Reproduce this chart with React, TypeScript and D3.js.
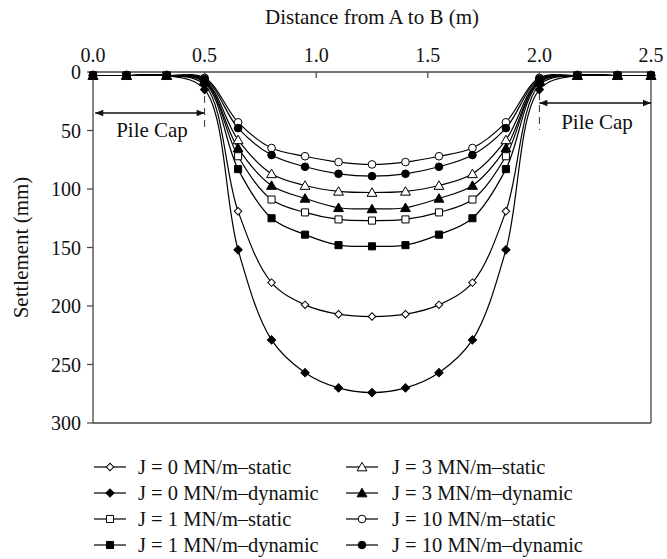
import React from "react";
import * as d3 from "d3";

const distances = [0, 0.15, 0.33, 0.5, 0.65, 0.8, 0.95, 1.1, 1.25, 1.4, 1.55, 1.7, 1.85, 2.0, 2.17, 2.35, 2.5];

const j0Static = [3, 3, 3, 11, 119, 180, 199, 207, 209, 207, 199, 180, 119, 11, 3, 3, 3];
const j0Dynamic = [3, 3, 3, 15, 152, 229, 257, 270, 274, 270, 257, 229, 152, 15, 3, 3, 3];
const j1Static = [3, 3, 3, 8, 72, 109, 120, 126, 127, 126, 120, 109, 72, 8, 3, 3, 3];
const j1Dynamic = [3, 3, 3, 9, 83, 125, 139, 148, 149, 148, 139, 125, 83, 9, 3, 3, 3];
const j3Static = [3, 3, 3, 7, 58, 87, 97, 102, 103, 102, 97, 87, 58, 7, 3, 3, 3];
const j3Dynamic = [3, 3, 3, 8, 65, 97, 108, 116, 117, 116, 108, 97, 65, 8, 3, 3, 3];
const j10Static = [3, 3, 3, 5, 43, 65, 72, 77, 79, 77, 72, 65, 43, 5, 3, 3, 3];
const j10Dynamic = [3, 3, 3, 6, 48, 71, 81, 87, 89, 87, 81, 71, 48, 6, 3, 3, 3];

const xTicks = [0, 0.5, 1.0, 1.5, 2.0, 2.5];
const yTicks = [0, 50, 100, 150, 200, 250, 300];

type Shape = "diamond" | "square" | "triangle" | "circle";
const seriesList: { label: string; values: number[]; shape: Shape; filled: boolean }[] = [
  { label: "J = 0 MN/m\u2013static", values: j0Static, shape: "diamond", filled: false },
  { label: "J = 0 MN/m\u2013dynamic", values: j0Dynamic, shape: "diamond", filled: true },
  { label: "J = 1 MN/m\u2013static", values: j1Static, shape: "square", filled: false },
  { label: "J = 1 MN/m\u2013dynamic", values: j1Dynamic, shape: "square", filled: true },
  { label: "J = 3 MN/m\u2013static", values: j3Static, shape: "triangle", filled: false },
  { label: "J = 3 MN/m\u2013dynamic", values: j3Dynamic, shape: "triangle", filled: true },
  { label: "J = 10 MN/m\u2013static", values: j10Static, shape: "circle", filled: false },
  { label: "J = 10 MN/m\u2013dynamic", values: j10Dynamic, shape: "circle", filled: true },
];

const W = 667;
const H = 559;
const L = 93, R = 651, T = 72, B = 423;
const FONT = "Liberation Serif, Times New Roman, serif";
const txt: React.CSSProperties = { fontFamily: FONT };

function symbolPath(shape: Shape, filled: boolean) {
  const map: Record<Shape, d3.SymbolType> = {
    diamond: d3.symbolSquare,
    square: d3.symbolSquare,
    triangle: d3.symbolTriangle,
    circle: d3.symbolCircle,
  };
  const sizes: Record<Shape, number> = { diamond: filled ? 34 : 28, square: 50, triangle: 42, circle: 46 };
  return d3.symbol(map[shape], sizes[shape])() as string;
}

function markerTransform(shape: Shape, cx: number, cy: number) {
  if (shape === "diamond") return `translate(${cx},${cy}) rotate(45)`;
  if (shape === "triangle") return `translate(${cx},${cy + 1})`;
  return `translate(${cx},${cy})`;
}

export default function App() {
  const x = d3.scaleLinear().domain([0, 2.5]).range([L, R]);
  const y = d3.scaleLinear().domain([0, 300]).range([T, B]);
  const line = d3
    .line<number>()
    .x((_, i) => x(distances[i]))
    .y((v) => y(v))
    .curve(d3.curveCatmullRom.alpha(0.5));

  const legendRows = [467, 493, 519, 545];
  const legendCols = [{ sx: 94, tx: 138 }, { sx: 346, tx: 392 }];

  return (
    <svg width={W} height={H} style={{ position: "absolute", left: 0, top: 0 }}>
      <rect x={0} y={0} width={W} height={H} fill="#fff" />
      <text x={(L + R) / 2} y={24} textAnchor="middle" fontSize={21} fill="#111" style={txt}>
        Distance from A to B (m)
      </text>
      <line x1={L} y1={T} x2={R} y2={T} stroke="#444" strokeWidth={1.3} />
      <line x1={L} y1={T} x2={L} y2={B} stroke="#444" strokeWidth={1.3} />
      <line x1={L} y1={B} x2={R} y2={B} stroke="#444" strokeWidth={1.3} />
      <line x1={R} y1={T} x2={R} y2={B} stroke="#444" strokeWidth={1.3} />
      {xTicks.map((t) => (
        <g key={"xt" + t}>
          <line x1={x(t)} y1={T} x2={x(t)} y2={T + 6} stroke="#444" strokeWidth={1.2} />
          <text x={x(t)} y={62} textAnchor="middle" fontSize={20} fill="#111" style={txt}>
            {t.toFixed(1)}
          </text>
        </g>
      ))}
      {yTicks.map((t) => (
        <g key={"yt" + t}>
          <line x1={L - 6} y1={y(t)} x2={L} y2={y(t)} stroke="#444" strokeWidth={1.2} />
          <text x={L - 12} y={y(t)} dy="0.35em" textAnchor="end" fontSize={20} fill="#111" style={txt}>
            {t}
          </text>
        </g>
      ))}
      <text
        transform={`translate(28,${(T + B) / 2}) rotate(-90)`}
        textAnchor="middle"
        fontSize={21}
        fill="#111"
        style={txt}
      >
        Settlement (mm)
      </text>

      <defs>
        <marker id="ah" viewBox="0 0 10 10" refX={10} refY={5} markerWidth={14} markerHeight={8} markerUnits="userSpaceOnUse" orient="auto-start-reverse">
          <path d="M0,1 L10,5 L0,9 z" fill="#111" />
        </marker>
      </defs>
      <line x1={x(0.01)} y1={113} x2={x(0.5)} y2={113} stroke="#111" strokeWidth={1.3} markerStart="url(#ah)" markerEnd="url(#ah)" />
      <text x={152} y={137} textAnchor="middle" fontSize={21} fill="#111" style={txt}>Pile Cap</text>
      <line x1={x(0.5)} y1={96} x2={x(0.5)} y2={131} stroke="#333" strokeWidth={1} strokeDasharray="7,5" />
      <line x1={x(2.0)} y1={103} x2={x(2.5)} y2={103} stroke="#111" strokeWidth={1.3} markerStart="url(#ah)" markerEnd="url(#ah)" />
      <text x={597} y={129} textAnchor="middle" fontSize={21} fill="#111" style={txt}>Pile Cap</text>
      <line x1={x(2.0)} y1={93} x2={x(2.0)} y2={130} stroke="#333" strokeWidth={1} strokeDasharray="7,5" />

      {seriesList.map((s) => (
        <path key={"l" + s.label} d={line(s.values) as string} fill="none" stroke="#000" strokeWidth={1.2} />
      ))}
      {seriesList.map((s) => (
        <g key={"m" + s.label}>
          {s.values.map((v, i) => (
            <path
              key={i}
              transform={markerTransform(s.shape, x(distances[i]), y(v))}
              d={symbolPath(s.shape, s.filled)}
              fill={s.filled ? "#000" : "#fff"}
              stroke="#000"
              strokeWidth={1}
            />
          ))}
        </g>
      ))}

      {seriesList.map((s, i) => {
        const col = legendCols[Math.floor(i / 4)];
        const ry = legendRows[i % 4];
        return (
          <g key={"lg" + s.label}>
            <line x1={col.sx} y1={ry} x2={col.sx + 32} y2={ry} stroke="#000" strokeWidth={1.2} />
            <path transform={markerTransform(s.shape, col.sx + 16, ry)} d={symbolPath(s.shape, s.filled)} fill={s.filled ? "#000" : "#fff"} stroke="#000" strokeWidth={1} />
            <text x={col.tx} y={ry} dy="0.35em" fontSize={20.5} fill="#111" style={txt}>
              {s.label}
            </text>
          </g>
        );
      })}
    </svg>
  );
}
